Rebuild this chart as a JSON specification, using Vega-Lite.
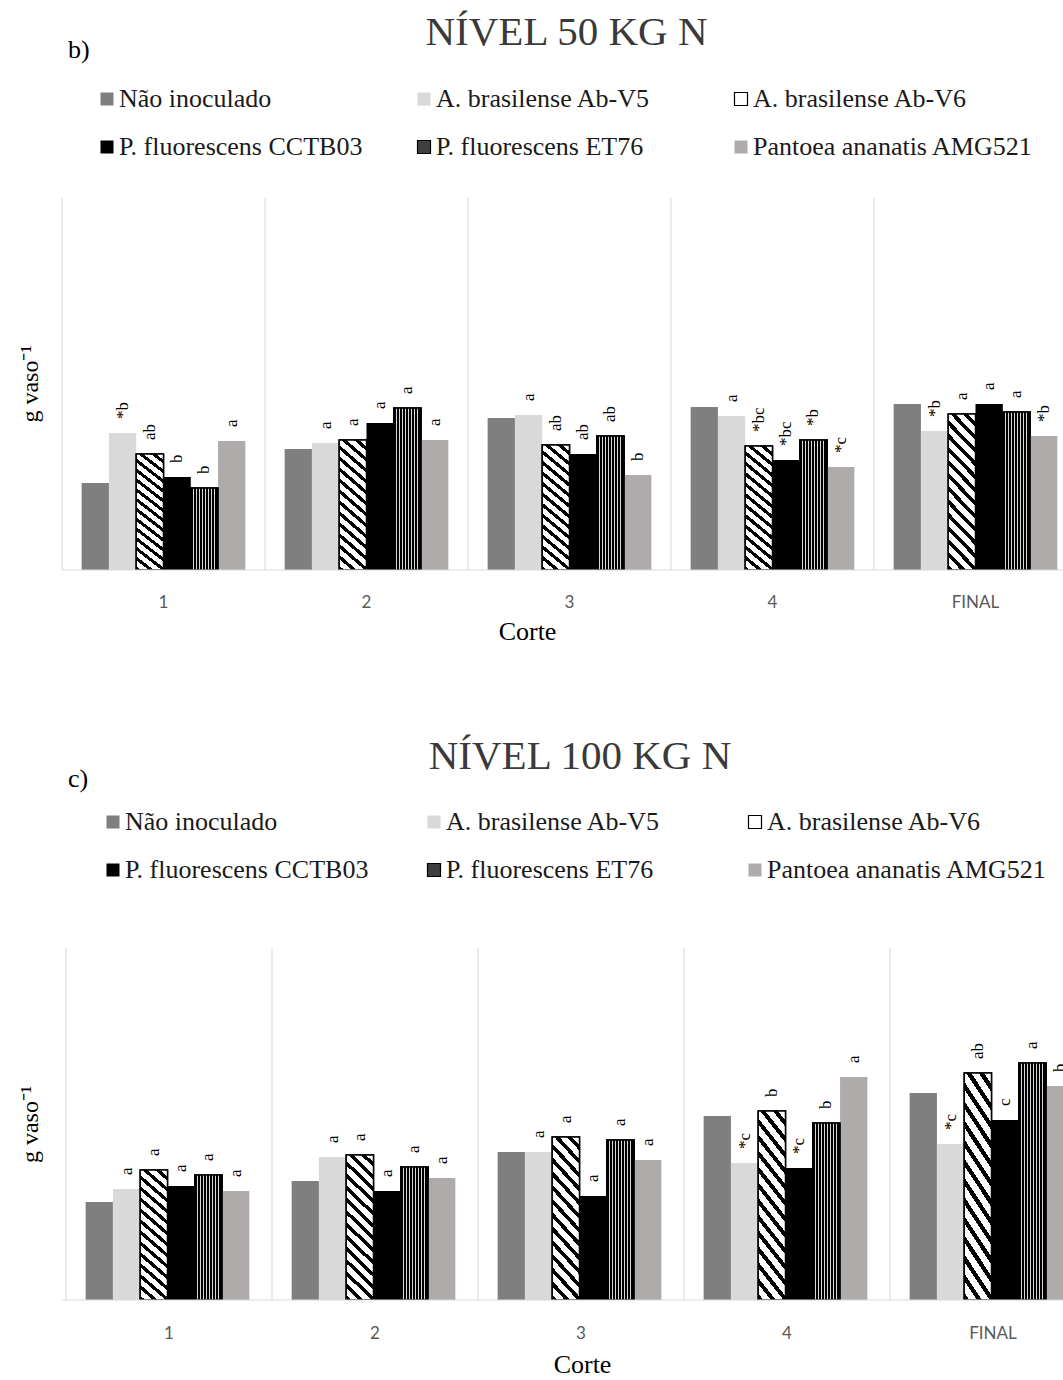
{
  "$schema": "https://vega.github.io/schema/vega-lite/v6.json",
  "background": "white",
  "padding": {"top": 12, "left": 18, "right": 0, "bottom": 0},
  "spacing": 92,
  "resolve": {"scale": {"fill": "independent", "stroke": "independent"}, "legend": {"fill": "independent", "stroke": "independent"}},
  "config": {
    "view": {"stroke": null},
    "font": "Liberation Serif",
    "title": {"font": "Liberation Serif", "fontWeight": "normal"}
  },
  "datasets": {
    "n50": [
      {"corte": "1", "serie": "Não inoculado", "v": 87, "lab": ""},
      {"corte": "1", "serie": "A. brasilense Ab-V5", "v": 137, "lab": "*b"},
      {"corte": "1", "serie": "A. brasilense Ab-V6", "v": 116, "lab": "ab"},
      {"corte": "1", "serie": "P. fluorescens CCTB03", "v": 93, "lab": "b"},
      {"corte": "1", "serie": "P. fluorescens ET76", "v": 82, "lab": "b"},
      {"corte": "1", "serie": "Pantoea ananatis AMG521", "v": 129, "lab": "a"},
      {"corte": "2", "serie": "Não inoculado", "v": 121, "lab": ""},
      {"corte": "2", "serie": "A. brasilense Ab-V5", "v": 127, "lab": "a"},
      {"corte": "2", "serie": "A. brasilense Ab-V6", "v": 130, "lab": "a"},
      {"corte": "2", "serie": "P. fluorescens CCTB03", "v": 147, "lab": "a"},
      {"corte": "2", "serie": "P. fluorescens ET76", "v": 162, "lab": "a"},
      {"corte": "2", "serie": "Pantoea ananatis AMG521", "v": 130, "lab": "a"},
      {"corte": "3", "serie": "Não inoculado", "v": 152, "lab": ""},
      {"corte": "3", "serie": "A. brasilense Ab-V5", "v": 155, "lab": "a"},
      {"corte": "3", "serie": "A. brasilense Ab-V6", "v": 125, "lab": "ab"},
      {"corte": "3", "serie": "P. fluorescens CCTB03", "v": 116, "lab": "ab"},
      {"corte": "3", "serie": "P. fluorescens ET76", "v": 134, "lab": "ab"},
      {"corte": "3", "serie": "Pantoea ananatis AMG521", "v": 95, "lab": "b"},
      {"corte": "4", "serie": "Não inoculado", "v": 163, "lab": ""},
      {"corte": "4", "serie": "A. brasilense Ab-V5", "v": 154, "lab": "a"},
      {"corte": "4", "serie": "A. brasilense Ab-V6", "v": 124, "lab": "*bc"},
      {"corte": "4", "serie": "P. fluorescens CCTB03", "v": 110, "lab": "*bc"},
      {"corte": "4", "serie": "P. fluorescens ET76", "v": 130, "lab": "*b"},
      {"corte": "4", "serie": "Pantoea ananatis AMG521", "v": 103, "lab": "*c"},
      {"corte": "FINAL", "serie": "Não inoculado", "v": 166, "lab": ""},
      {"corte": "FINAL", "serie": "A. brasilense Ab-V5", "v": 139, "lab": "*b"},
      {"corte": "FINAL", "serie": "A. brasilense Ab-V6", "v": 156, "lab": "a"},
      {"corte": "FINAL", "serie": "P. fluorescens CCTB03", "v": 166, "lab": "a"},
      {"corte": "FINAL", "serie": "P. fluorescens ET76", "v": 158, "lab": "a"},
      {"corte": "FINAL", "serie": "Pantoea ananatis AMG521", "v": 134, "lab": "*b"}
    ],
    "n100": [
      {"corte": "1", "serie": "Não inoculado", "v": 98, "lab": ""},
      {"corte": "1", "serie": "A. brasilense Ab-V5", "v": 111, "lab": "a"},
      {"corte": "1", "serie": "A. brasilense Ab-V6", "v": 130, "lab": "a"},
      {"corte": "1", "serie": "P. fluorescens CCTB03", "v": 114, "lab": "a"},
      {"corte": "1", "serie": "P. fluorescens ET76", "v": 125, "lab": "a"},
      {"corte": "1", "serie": "Pantoea ananatis AMG521", "v": 109, "lab": "a"},
      {"corte": "2", "serie": "Não inoculado", "v": 119, "lab": ""},
      {"corte": "2", "serie": "A. brasilense Ab-V5", "v": 143, "lab": "a"},
      {"corte": "2", "serie": "A. brasilense Ab-V6", "v": 145, "lab": "a"},
      {"corte": "2", "serie": "P. fluorescens CCTB03", "v": 109, "lab": "a"},
      {"corte": "2", "serie": "P. fluorescens ET76", "v": 133, "lab": "a"},
      {"corte": "2", "serie": "Pantoea ananatis AMG521", "v": 122, "lab": "a"},
      {"corte": "3", "serie": "Não inoculado", "v": 148, "lab": ""},
      {"corte": "3", "serie": "A. brasilense Ab-V5", "v": 148, "lab": "a"},
      {"corte": "3", "serie": "A. brasilense Ab-V6", "v": 163, "lab": "a"},
      {"corte": "3", "serie": "P. fluorescens CCTB03", "v": 104, "lab": "a"},
      {"corte": "3", "serie": "P. fluorescens ET76", "v": 160, "lab": "a"},
      {"corte": "3", "serie": "Pantoea ananatis AMG521", "v": 140, "lab": "a"},
      {"corte": "4", "serie": "Não inoculado", "v": 184, "lab": ""},
      {"corte": "4", "serie": "A. brasilense Ab-V5", "v": 137, "lab": "*c"},
      {"corte": "4", "serie": "A. brasilense Ab-V6", "v": 189, "lab": "b"},
      {"corte": "4", "serie": "P. fluorescens CCTB03", "v": 132, "lab": "*c"},
      {"corte": "4", "serie": "P. fluorescens ET76", "v": 177, "lab": "b"},
      {"corte": "4", "serie": "Pantoea ananatis AMG521", "v": 223, "lab": "a"},
      {"corte": "FINAL", "serie": "Não inoculado", "v": 207, "lab": ""},
      {"corte": "FINAL", "serie": "A. brasilense Ab-V5", "v": 156, "lab": "*c"},
      {"corte": "FINAL", "serie": "A. brasilense Ab-V6", "v": 227, "lab": "ab"},
      {"corte": "FINAL", "serie": "P. fluorescens CCTB03", "v": 180, "lab": "c"},
      {"corte": "FINAL", "serie": "P. fluorescens ET76", "v": 237, "lab": "a"},
      {"corte": "FINAL", "serie": "Pantoea ananatis AMG521", "v": 214, "lab": "b"}
    ]
  },
  "vconcat": [
    {
      "title": {"text": "NÍVEL 50 KG N", "fontSize": 41, "color": "#3a3a3a", "anchor": "middle", "offset": -17, "dx": 19},
      "resolve": {"scale": {"fill": "independent", "stroke": "independent"}, "legend": {"fill": "independent", "stroke": "independent"}},
      "vconcat": [
        {
          "title": {"text": "b)", "anchor": "start", "frame": "group", "fontSize": 26, "offset": 23, "dx": 6, "color": "#000000"},
          "width": 1001,
          "height": 373,
          "data": {"name": "n50"},
          "layer": [
            {
              "transform": [{"filter": "datum.serie == 'Não inoculado'"}],
              "mark": {"type": "rule", "color": "#d9d9d9", "strokeWidth": 1},
              "encoding": {"x": {"field": "corte", "type": "nominal", "bandPosition": 0}}
            },
            {
              "mark": {"type": "bar", "strokeWidth": 1.5, "clip": true},
              "encoding": {
                "x": {"field": "corte", "type": "nominal",
                  "scale": {"domain": ["1", "2", "3", "4", "FINAL"], "range": [0, 1015], "paddingInner": 0, "paddingOuter": 0},
                  "axis": {"title": "Corte", "labelAngle": 0, "labelAlign": "center", "domain": false, "ticks": false, "grid": false, "labelFlush": false, "labelBound": false, "labelOverlap": false, "labelFont": "Lato", "labelFontSize": 17, "labelColor": "#595959", "labelPadding": 32, "titleFont": "Liberation Serif", "titleFontSize": 26, "titleFontWeight": "normal", "titleColor": "#000000", "titlePadding": 8, "titleX": 465}},
                "xOffset": {"field": "serie", "type": "nominal",
                  "scale": {"domain": ["Não inoculado", "A. brasilense Ab-V5", "A. brasilense Ab-V6", "P. fluorescens CCTB03", "P. fluorescens ET76", "Pantoea ananatis AMG521"], "paddingInner": 0, "paddingOuter": 0.72}},
                "y": {"field": "v", "type": "quantitative",
                  "scale": {"domain": [0, 373], "nice": false},
                  "axis": {"title": "g vaso⁻¹", "labels": false, "ticks": false, "domain": false, "grid": false, "titleFont": "Liberation Serif", "titleFontSize": 24, "titleFontWeight": "normal", "titleColor": "#000000", "titlePadding": 20}},
                "fill": {"field": "serie", "type": "nominal",
                  "scale": {"domain": ["Não inoculado", "A. brasilense Ab-V5", "A. brasilense Ab-V6", "P. fluorescens CCTB03", "P. fluorescens ET76", "Pantoea ananatis AMG521"], "range": ["#7f7f7f", "#d9d9d9", "#ffffff", "#000000", "#3f3f3f", "#afabab"]},
                  "legend": {"orient": "none", "legendX": 32, "legendY": -111, "direction": "horizontal", "columns": 3, "gridAlign": "all", "columnPadding": 11, "rowPadding": 22, "symbolType": "square", "symbolSize": 169, "symbolStrokeWidth": 1.2, "labelFont": "Liberation Serif", "labelFontSize": 26, "labelColor": "#1a1a1a", "labelLimit": 0, "labelOffset": -1, "title": null}},
                "stroke": {"field": "serie", "type": "nominal",
                  "scale": {"domain": ["Não inoculado", "A. brasilense Ab-V5", "A. brasilense Ab-V6", "P. fluorescens CCTB03", "P. fluorescens ET76", "Pantoea ananatis AMG521"], "range": ["transparent", "transparent", "#000000", "transparent", "#000000", "transparent"]}}
              }
            },
            {
              "transform": [{"filter": "datum.serie == 'A. brasilense Ab-V6'"}],
              "mark": {"type": "bar", "stroke": "#000000", "strokeWidth": 1.5, "clip": true,
                "fill": {"gradient": "linear", "x1": 0, "y1": 1, "x2": 0.208, "y2": -0.144, "stops": [
                  {"offset": 0, "color": "#000000"}, {"offset": 0.0286, "color": "#000000"}, {"offset": 0.0286, "color": "#ffffff"}, {"offset": 0.0714, "color": "#ffffff"},
                  {"offset": 0.0714, "color": "#000000"}, {"offset": 0.1, "color": "#000000"}, {"offset": 0.1, "color": "#ffffff"}, {"offset": 0.1429, "color": "#ffffff"},
                  {"offset": 0.1429, "color": "#000000"}, {"offset": 0.1715, "color": "#000000"}, {"offset": 0.1715, "color": "#ffffff"}, {"offset": 0.2143, "color": "#ffffff"},
                  {"offset": 0.2143, "color": "#000000"}, {"offset": 0.2429, "color": "#000000"}, {"offset": 0.2429, "color": "#ffffff"}, {"offset": 0.2857, "color": "#ffffff"},
                  {"offset": 0.2857, "color": "#000000"}, {"offset": 0.3143, "color": "#000000"}, {"offset": 0.3143, "color": "#ffffff"}, {"offset": 0.3571, "color": "#ffffff"},
                  {"offset": 0.3571, "color": "#000000"}, {"offset": 0.3857, "color": "#000000"}, {"offset": 0.3857, "color": "#ffffff"}, {"offset": 0.4286, "color": "#ffffff"},
                  {"offset": 0.4286, "color": "#000000"}, {"offset": 0.4572, "color": "#000000"}, {"offset": 0.4572, "color": "#ffffff"}, {"offset": 0.5, "color": "#ffffff"},
                  {"offset": 0.5, "color": "#000000"}, {"offset": 0.5286, "color": "#000000"}, {"offset": 0.5286, "color": "#ffffff"}, {"offset": 0.5714, "color": "#ffffff"},
                  {"offset": 0.5714, "color": "#000000"}, {"offset": 0.6, "color": "#000000"}, {"offset": 0.6, "color": "#ffffff"}, {"offset": 0.6429, "color": "#ffffff"},
                  {"offset": 0.6429, "color": "#000000"}, {"offset": 0.6715, "color": "#000000"}, {"offset": 0.6715, "color": "#ffffff"}, {"offset": 0.7143, "color": "#ffffff"},
                  {"offset": 0.7143, "color": "#000000"}, {"offset": 0.7429, "color": "#000000"}, {"offset": 0.7429, "color": "#ffffff"}, {"offset": 0.7857, "color": "#ffffff"},
                  {"offset": 0.7857, "color": "#000000"}, {"offset": 0.8143, "color": "#000000"}, {"offset": 0.8143, "color": "#ffffff"}, {"offset": 0.8571, "color": "#ffffff"},
                  {"offset": 0.8571, "color": "#000000"}, {"offset": 0.8857, "color": "#000000"}, {"offset": 0.8857, "color": "#ffffff"}, {"offset": 0.9286, "color": "#ffffff"},
                  {"offset": 0.9286, "color": "#000000"}, {"offset": 0.9572, "color": "#000000"}, {"offset": 0.9572, "color": "#ffffff"}, {"offset": 1, "color": "#ffffff"}
                ]}},
              "encoding": {
                "x": {"field": "corte", "type": "nominal"},
                "xOffset": {"field": "serie", "type": "nominal"},
                "y": {"field": "v", "type": "quantitative"}
              }
            },
            {
              "transform": [{"filter": "datum.serie == 'P. fluorescens ET76'"}],
              "mark": {"type": "bar", "stroke": "#000000", "strokeWidth": 1.5, "clip": true,
                "fill": {"gradient": "linear", "x1": 0, "y1": 0, "x2": 1, "y2": 0, "stops": [
                  {"offset": 0, "color": "#000000"}, {"offset": 0.0741, "color": "#000000"}, {"offset": 0.0741, "color": "#d8d8d8"}, {"offset": 0.1111, "color": "#d8d8d8"},
                  {"offset": 0.1111, "color": "#000000"}, {"offset": 0.1852, "color": "#000000"}, {"offset": 0.1852, "color": "#d8d8d8"}, {"offset": 0.2222, "color": "#d8d8d8"},
                  {"offset": 0.2222, "color": "#000000"}, {"offset": 0.2963, "color": "#000000"}, {"offset": 0.2963, "color": "#d8d8d8"}, {"offset": 0.3333, "color": "#d8d8d8"},
                  {"offset": 0.3333, "color": "#000000"}, {"offset": 0.4074, "color": "#000000"}, {"offset": 0.4074, "color": "#d8d8d8"}, {"offset": 0.4444, "color": "#d8d8d8"},
                  {"offset": 0.4444, "color": "#000000"}, {"offset": 0.5185, "color": "#000000"}, {"offset": 0.5185, "color": "#d8d8d8"}, {"offset": 0.5556, "color": "#d8d8d8"},
                  {"offset": 0.5556, "color": "#000000"}, {"offset": 0.6296, "color": "#000000"}, {"offset": 0.6296, "color": "#d8d8d8"}, {"offset": 0.6667, "color": "#d8d8d8"},
                  {"offset": 0.6667, "color": "#000000"}, {"offset": 0.7407, "color": "#000000"}, {"offset": 0.7407, "color": "#d8d8d8"}, {"offset": 0.7778, "color": "#d8d8d8"},
                  {"offset": 0.7778, "color": "#000000"}, {"offset": 0.8519, "color": "#000000"}, {"offset": 0.8519, "color": "#d8d8d8"}, {"offset": 0.8889, "color": "#d8d8d8"},
                  {"offset": 0.8889, "color": "#000000"}, {"offset": 1, "color": "#000000"}
                ]}},
              "encoding": {
                "x": {"field": "corte", "type": "nominal"},
                "xOffset": {"field": "serie", "type": "nominal"},
                "y": {"field": "v", "type": "quantitative"}
              }
            },
            {
              "mark": {"type": "text", "angle": 270, "align": "left", "baseline": "middle", "dx": 14, "fontSize": 17, "font": "Liberation Serif", "color": "#000000"},
              "encoding": {
                "x": {"field": "corte", "type": "nominal"},
                "xOffset": {"field": "serie", "type": "nominal"},
                "y": {"field": "v", "type": "quantitative"},
                "text": {"field": "lab"}
              }
            },
            {
              "transform": [{"filter": "datum.serie == 'Não inoculado' && datum.corte == '1'"}],
              "mark": {"type": "rule", "color": "#d9d9d9", "strokeWidth": 1},
              "encoding": {"y": {"datum": 0}}
            }
          ]
        }
      ]
    },
    {
      "title": {"text": "NÍVEL 100 KG N", "fontSize": 41, "color": "#3a3a3a", "anchor": "middle", "offset": -12, "dx": 25},
      "resolve": {"scale": {"fill": "independent", "stroke": "independent"}, "legend": {"fill": "independent", "stroke": "independent"}},
      "vconcat": [
        {
          "title": {"text": "c)", "anchor": "start", "frame": "group", "fontSize": 26, "offset": 17, "dx": 6, "color": "#000000"},
          "width": 1001,
          "height": 352,
          "data": {"name": "n100"},
          "layer": [
            {
              "transform": [{"filter": "datum.serie == 'Não inoculado'"}],
              "mark": {"type": "rule", "color": "#d9d9d9", "strokeWidth": 1},
              "encoding": {"x": {"field": "corte", "type": "nominal", "bandPosition": 0}}
            },
            {
              "mark": {"type": "bar", "strokeWidth": 1.5, "clip": true},
              "encoding": {
                "x": {"field": "corte", "type": "nominal",
                  "scale": {"domain": ["1", "2", "3", "4", "FINAL"], "range": [4, 1034], "paddingInner": 0, "paddingOuter": 0},
                  "axis": {"title": "Corte", "labelAngle": 0, "labelAlign": "center", "domain": false, "ticks": false, "grid": false, "labelFlush": false, "labelBound": false, "labelOverlap": false, "labelFont": "Lato", "labelFontSize": 17, "labelColor": "#595959", "labelPadding": 33, "titleFont": "Liberation Serif", "titleFontSize": 26, "titleFontWeight": "normal", "titleColor": "#000000", "titlePadding": 10, "titleX": 520}},
                "xOffset": {"field": "serie", "type": "nominal",
                  "scale": {"domain": ["Não inoculado", "A. brasilense Ab-V5", "A. brasilense Ab-V6", "P. fluorescens CCTB03", "P. fluorescens ET76", "Pantoea ananatis AMG521"], "paddingInner": 0, "paddingOuter": 0.72}},
                "y": {"field": "v", "type": "quantitative",
                  "scale": {"domain": [0, 352], "nice": false},
                  "axis": {"title": "g vaso⁻¹", "labels": false, "ticks": false, "domain": false, "grid": false, "titleFont": "Liberation Serif", "titleFontSize": 24, "titleFontWeight": "normal", "titleColor": "#000000", "titlePadding": 20}},
                "fill": {"field": "serie", "type": "nominal",
                  "scale": {"domain": ["Não inoculado", "A. brasilense Ab-V5", "A. brasilense Ab-V6", "P. fluorescens CCTB03", "P. fluorescens ET76", "Pantoea ananatis AMG521"], "range": ["#7f7f7f", "#d9d9d9", "#ffffff", "#000000", "#3f3f3f", "#afabab"]},
                  "legend": {"orient": "none", "legendX": 38, "legendY": -139, "direction": "horizontal", "columns": 3, "gridAlign": "all", "columnPadding": 15, "rowPadding": 22, "symbolType": "square", "symbolSize": 169, "symbolStrokeWidth": 1.2, "labelFont": "Liberation Serif", "labelFontSize": 26, "labelColor": "#1a1a1a", "labelLimit": 0, "labelOffset": -1, "title": null}},
                "stroke": {"field": "serie", "type": "nominal",
                  "scale": {"domain": ["Não inoculado", "A. brasilense Ab-V5", "A. brasilense Ab-V6", "P. fluorescens CCTB03", "P. fluorescens ET76", "Pantoea ananatis AMG521"], "range": ["transparent", "transparent", "#000000", "transparent", "#000000", "transparent"]}}
              }
            },
            {
              "transform": [{"filter": "datum.serie == 'A. brasilense Ab-V6'"}],
              "mark": {"type": "bar", "stroke": "#000000", "strokeWidth": 1.5, "clip": true,
                "fill": {"gradient": "linear", "x1": 0, "y1": 1, "x2": 0.208, "y2": -0.144, "stops": [
                  {"offset": 0, "color": "#000000"}, {"offset": 0.0286, "color": "#000000"}, {"offset": 0.0286, "color": "#ffffff"}, {"offset": 0.0714, "color": "#ffffff"},
                  {"offset": 0.0714, "color": "#000000"}, {"offset": 0.1, "color": "#000000"}, {"offset": 0.1, "color": "#ffffff"}, {"offset": 0.1429, "color": "#ffffff"},
                  {"offset": 0.1429, "color": "#000000"}, {"offset": 0.1715, "color": "#000000"}, {"offset": 0.1715, "color": "#ffffff"}, {"offset": 0.2143, "color": "#ffffff"},
                  {"offset": 0.2143, "color": "#000000"}, {"offset": 0.2429, "color": "#000000"}, {"offset": 0.2429, "color": "#ffffff"}, {"offset": 0.2857, "color": "#ffffff"},
                  {"offset": 0.2857, "color": "#000000"}, {"offset": 0.3143, "color": "#000000"}, {"offset": 0.3143, "color": "#ffffff"}, {"offset": 0.3571, "color": "#ffffff"},
                  {"offset": 0.3571, "color": "#000000"}, {"offset": 0.3857, "color": "#000000"}, {"offset": 0.3857, "color": "#ffffff"}, {"offset": 0.4286, "color": "#ffffff"},
                  {"offset": 0.4286, "color": "#000000"}, {"offset": 0.4572, "color": "#000000"}, {"offset": 0.4572, "color": "#ffffff"}, {"offset": 0.5, "color": "#ffffff"},
                  {"offset": 0.5, "color": "#000000"}, {"offset": 0.5286, "color": "#000000"}, {"offset": 0.5286, "color": "#ffffff"}, {"offset": 0.5714, "color": "#ffffff"},
                  {"offset": 0.5714, "color": "#000000"}, {"offset": 0.6, "color": "#000000"}, {"offset": 0.6, "color": "#ffffff"}, {"offset": 0.6429, "color": "#ffffff"},
                  {"offset": 0.6429, "color": "#000000"}, {"offset": 0.6715, "color": "#000000"}, {"offset": 0.6715, "color": "#ffffff"}, {"offset": 0.7143, "color": "#ffffff"},
                  {"offset": 0.7143, "color": "#000000"}, {"offset": 0.7429, "color": "#000000"}, {"offset": 0.7429, "color": "#ffffff"}, {"offset": 0.7857, "color": "#ffffff"},
                  {"offset": 0.7857, "color": "#000000"}, {"offset": 0.8143, "color": "#000000"}, {"offset": 0.8143, "color": "#ffffff"}, {"offset": 0.8571, "color": "#ffffff"},
                  {"offset": 0.8571, "color": "#000000"}, {"offset": 0.8857, "color": "#000000"}, {"offset": 0.8857, "color": "#ffffff"}, {"offset": 0.9286, "color": "#ffffff"},
                  {"offset": 0.9286, "color": "#000000"}, {"offset": 0.9572, "color": "#000000"}, {"offset": 0.9572, "color": "#ffffff"}, {"offset": 1, "color": "#ffffff"}
                ]}},
              "encoding": {
                "x": {"field": "corte", "type": "nominal"},
                "xOffset": {"field": "serie", "type": "nominal"},
                "y": {"field": "v", "type": "quantitative"}
              }
            },
            {
              "transform": [{"filter": "datum.serie == 'P. fluorescens ET76'"}],
              "mark": {"type": "bar", "stroke": "#000000", "strokeWidth": 1.5, "clip": true,
                "fill": {"gradient": "linear", "x1": 0, "y1": 0, "x2": 1, "y2": 0, "stops": [
                  {"offset": 0, "color": "#000000"}, {"offset": 0.0741, "color": "#000000"}, {"offset": 0.0741, "color": "#d8d8d8"}, {"offset": 0.1111, "color": "#d8d8d8"},
                  {"offset": 0.1111, "color": "#000000"}, {"offset": 0.1852, "color": "#000000"}, {"offset": 0.1852, "color": "#d8d8d8"}, {"offset": 0.2222, "color": "#d8d8d8"},
                  {"offset": 0.2222, "color": "#000000"}, {"offset": 0.2963, "color": "#000000"}, {"offset": 0.2963, "color": "#d8d8d8"}, {"offset": 0.3333, "color": "#d8d8d8"},
                  {"offset": 0.3333, "color": "#000000"}, {"offset": 0.4074, "color": "#000000"}, {"offset": 0.4074, "color": "#d8d8d8"}, {"offset": 0.4444, "color": "#d8d8d8"},
                  {"offset": 0.4444, "color": "#000000"}, {"offset": 0.5185, "color": "#000000"}, {"offset": 0.5185, "color": "#d8d8d8"}, {"offset": 0.5556, "color": "#d8d8d8"},
                  {"offset": 0.5556, "color": "#000000"}, {"offset": 0.6296, "color": "#000000"}, {"offset": 0.6296, "color": "#d8d8d8"}, {"offset": 0.6667, "color": "#d8d8d8"},
                  {"offset": 0.6667, "color": "#000000"}, {"offset": 0.7407, "color": "#000000"}, {"offset": 0.7407, "color": "#d8d8d8"}, {"offset": 0.7778, "color": "#d8d8d8"},
                  {"offset": 0.7778, "color": "#000000"}, {"offset": 0.8519, "color": "#000000"}, {"offset": 0.8519, "color": "#d8d8d8"}, {"offset": 0.8889, "color": "#d8d8d8"},
                  {"offset": 0.8889, "color": "#000000"}, {"offset": 1, "color": "#000000"}
                ]}},
              "encoding": {
                "x": {"field": "corte", "type": "nominal"},
                "xOffset": {"field": "serie", "type": "nominal"},
                "y": {"field": "v", "type": "quantitative"}
              }
            },
            {
              "mark": {"type": "text", "angle": 270, "align": "left", "baseline": "middle", "dx": 14, "fontSize": 17, "font": "Liberation Serif", "color": "#000000"},
              "encoding": {
                "x": {"field": "corte", "type": "nominal"},
                "xOffset": {"field": "serie", "type": "nominal"},
                "y": {"field": "v", "type": "quantitative"},
                "text": {"field": "lab"}
              }
            },
            {
              "transform": [{"filter": "datum.serie == 'Não inoculado' && datum.corte == '1'"}],
              "mark": {"type": "rule", "color": "#d9d9d9", "strokeWidth": 1},
              "encoding": {"y": {"datum": 0}}
            }
          ]
        }
      ]
    }
  ]
}
